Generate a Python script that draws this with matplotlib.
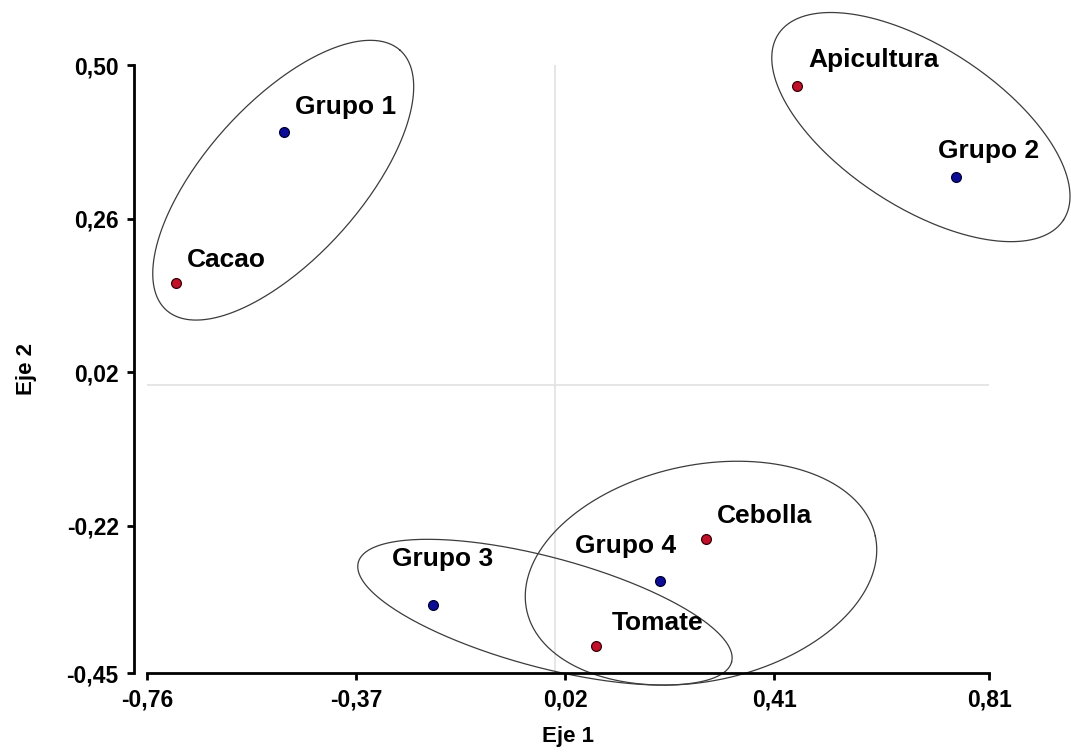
import numpy as np
import matplotlib
matplotlib.use("Agg")
import matplotlib.pyplot as plt

# Puntos del biplot (Eje 1, Eje 2)
nombres = ["Cacao", "Grupo 1", "Apicultura", "Grupo 2", "Grupo 3", "Tomate", "Grupo 4", "Cebolla"]
eje1 = [-0.706, -0.505, 0.452, 0.749, -0.227, 0.077, 0.197, 0.282]
eje2 = [0.159, 0.395, 0.467, 0.325, -0.344, -0.408, -0.306, -0.241]
tipo = ["cultivo", "grupo", "cultivo", "grupo", "grupo", "cultivo", "grupo", "cultivo"]

# Elipses: centro y dos semiejes (vectores en unidades de los ejes)
elip_cx = [-0.506, 0.683, -0.018, 0.273]
elip_cy = [0.320, 0.403, -0.355, -0.294]
elip_u = [(0.218, 0.203), (0.266, -0.145), (0.348, -0.078), (0.325, 0.058)]
elip_v = [(-0.108, 0.081), (0.081, 0.105), (0.027, 0.083), (-0.042, 0.165)]

x_ticks = [-0.76, -0.37, 0.02, 0.41, 0.81]
x_labels = ["-0,76", "-0,37", "0,02", "0,41", "0,81"]
y_ticks = [-0.45, -0.22, 0.02, 0.26, 0.50]
y_labels = ["-0,45", "-0,22", "0,02", "0,26", "0,50"]

# desplazamiento de cada etiqueta en pixeles
offsets = {"Cacao": (11, 16), "Grupo 1": (11, 18), "Apicultura": (11, 19),
           "Grupo 2": (-18, 19), "Grupo 3": (-41, 39), "Tomate": (16, 16),
           "Grupo 4": (-85, 28), "Cebolla": (11, 16)}

colores = {"cultivo": ("#c0102a", "#3a0008"), "grupo": ("#0c0c96", "#000033")}

plt.rcParams["font.family"] = ["Liberation Sans", "DejaVu Sans"]
plt.rcParams["font.weight"] = "bold"

fig = plt.figure(figsize=(10.71, 7.53), dpi=100)
ax = fig.add_axes([147 / 1071, 1 - 673 / 753, 842 / 1071, 608 / 753])

# lineas de referencia en cero
ax.axhline(0, color="#e2e2e2", lw=1.2, zorder=0)
ax.axvline(0, color="#e2e2e2", lw=1.2, zorder=0)

t = np.linspace(0, 2 * np.pi, 300)
for cx, cy, u, v in zip(elip_cx, elip_cy, elip_u, elip_v):
    ex = cx + u[0] * np.cos(t) + v[0] * np.sin(t)
    ey = cy + u[1] * np.cos(t) + v[1] * np.sin(t)
    ax.plot(ex, ey, color="#3c3c3c", lw=0.9, clip_on=False, zorder=1)

for x, y, n, k in zip(eje1, eje2, nombres, tipo):
    fc, ec = colores[k]
    ax.scatter(x, y, s=50, color=fc, edgecolors=ec, linewidths=0.9, zorder=3, clip_on=False)
    ax.annotate(n, (x, y), xytext=offsets[n], textcoords="offset pixels",
                ha="left", va="baseline", fontsize=19, fontweight="bold")

ax.set_xlim(-0.76, 0.81)
ax.set_ylim(-0.45, 0.50)
ax.set_xticks(x_ticks)
ax.set_xticklabels(x_labels)
ax.set_yticks(y_ticks)
ax.set_yticklabels(y_labels)

ax.spines["top"].set_visible(False)
ax.spines["right"].set_visible(False)
ax.spines["left"].set_position(("outward", 9.4))
for s in ["left", "bottom"]:
    ax.spines[s].set_linewidth(2.0)
ax.tick_params(axis="both", direction="out", length=5, width=2.0, labelsize=16.5, pad=6)

ax.set_xlabel("Eje 1", fontsize=16, fontweight="bold")
ax.set_ylabel("Eje 2", fontsize=16, fontweight="bold")
ax.xaxis.set_label_coords(0.5, -0.087)
ax.yaxis.set_label_coords(-0.131, 0.5)

plt.savefig("out.png", dpi=100)
print("Grafico guardado como out.png")
